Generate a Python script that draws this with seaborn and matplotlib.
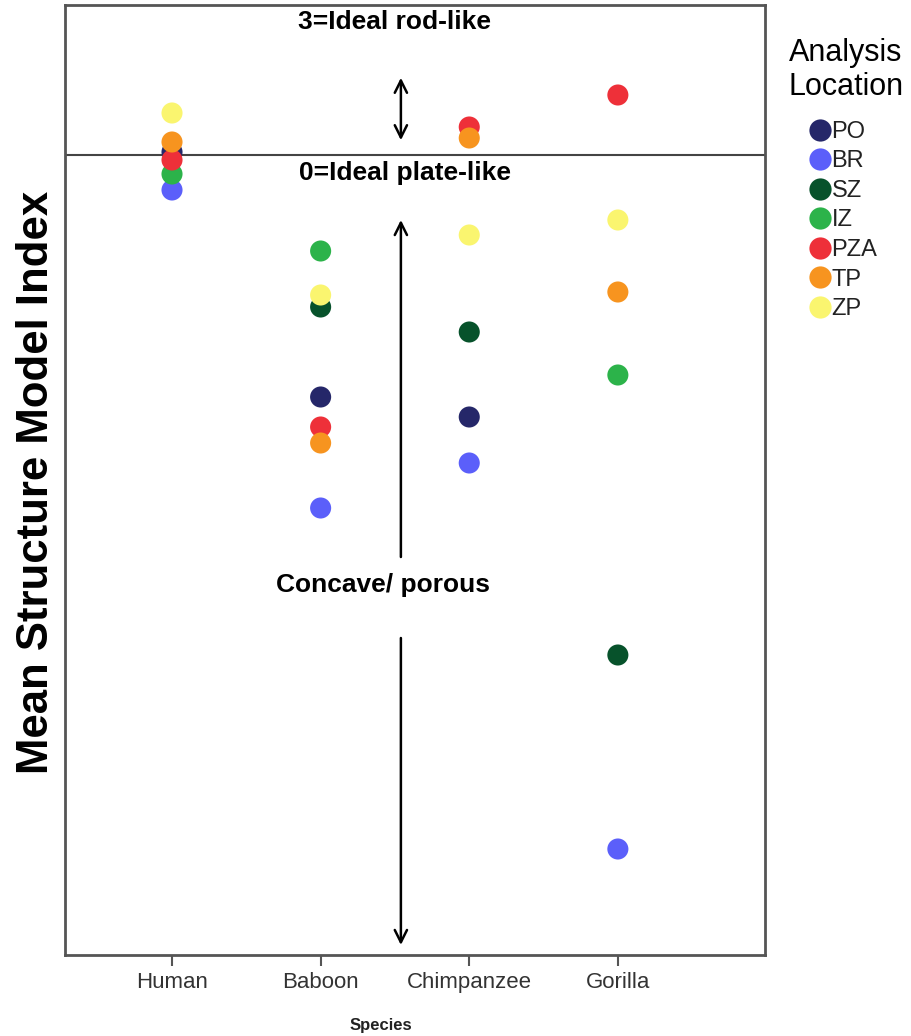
import numpy as np
import pandas as pd
import matplotlib
matplotlib.use("Agg")
import matplotlib.pyplot as plt
from matplotlib.lines import Line2D
import seaborn as sns

# Mean SMI per species and analysis location (NaN = not measured)
species = ["Human", "Baboon", "Chimpanzee", "Gorilla"]
locations = ["PO", "BR", "SZ", "IZ", "PZA", "TP", "ZP"]
po  = [0.015, -1.21, -1.31, np.nan]
br  = [-0.175, -1.765, -1.54, -3.47]
sz  = [np.nan, -0.76, -0.885, -2.50]
iz  = [-0.095, -0.48, np.nan, -1.10]
pza = [-0.025, -1.36, 0.14, 0.30]
tp  = [0.065, -1.44, 0.085, -0.685]
zp  = [0.21, -0.70, -0.40, -0.325]
colors = ["#252769", "#5b5ffa", "#07522b", "#2cb34a", "#ee3039", "#f7941f", "#faf56f"]

series = [po, br, sz, iz, pza, tp, zp]
rows = []
for loc, vals in zip(locations, series):
    for sp, v in zip(species, vals):
        rows.append({"Species": sp, "Location": loc, "SMI": v})
df = pd.DataFrame(rows).dropna()

sns.set_style("white")
plt.rcParams["font.family"] = ["Liberation Sans", "DejaVu Sans"]
plt.rcParams["text.color"] = "black"

fig = plt.figure(figsize=(9.12, 10.36), dpi=100)
ax = fig.add_axes([65 / 912, 1 - 955 / 1036, 700 / 912, 950 / 1036])

palette = dict(zip(locations, colors))
sns.scatterplot(data=df, x="Species", y="SMI", hue="Location", hue_order=locations,
                palette=palette, s=230, linewidth=0, legend=False, ax=ax, zorder=3)

ax.set_xlim(-0.72, 3.99)
ax.set_ylim(-4.0, 0.75)
ax.set_yticks([])
ax.set_xticks(range(len(species)))
ax.set_xticklabels(species, fontsize=16, color="#333333")
ax.tick_params(axis="x", direction="out", length=8, width=1.5, color="#555555", pad=4, bottom=True)

for side in ["left", "right", "top", "bottom"]:
    ax.spines[side].set_visible(True)
    ax.spines[side].set_color("#555555")
    ax.spines[side].set_linewidth(2)

# Reference line at SMI = 0
ax.axhline(0, color="#444444", lw=1.5, zorder=2)

ax.set_ylabel("Mean Structure Model Index", fontsize=31.5, fontweight="bold", color="black")
ax.yaxis.set_label_coords(-0.011, 0.498)
ax.set_xlabel("Species", fontsize=12, fontweight="bold", color="#222222")
ax.xaxis.set_label_coords(0.451, -0.066)

# Annotations for the SMI scale
xa = 1.54
ax.text(xa - 0.04, 0.665, "3=Ideal rod-like", ha="center", va="center",
        fontsize=19, fontweight="bold", color="black")
ax.text(xa + 0.03, -0.09, "0=Ideal plate-like", ha="center", va="center",
        fontsize=19, fontweight="bold", color="black")
ax.text(xa - 0.12, -2.15, "Concave/ porous", ha="center", va="center",
        fontsize=19, fontweight="bold", color="black")

arrow_kw = dict(color="black", lw=1.8, mutation_scale=22)
ax.annotate("", xy=(xa, 0.40), xytext=(xa, 0.06),
            arrowprops=dict(arrowstyle="<->", **arrow_kw))
ax.annotate("", xy=(xa, -0.325), xytext=(xa, -2.01),
            arrowprops=dict(arrowstyle="->", shrinkA=0, shrinkB=0, **arrow_kw))
ax.annotate("", xy=(xa, -3.95), xytext=(xa, -2.415),
            arrowprops=dict(arrowstyle="->", shrinkA=0, shrinkB=0, **arrow_kw))

# Legend: title drawn as its own text, entries below it
fig.text(846 / 912, 1 - 70 / 1036, "Analysis\nLocation", ha="center", va="center",
         fontsize=22, linespacing=1.15, color="black")
handles = [Line2D([0], [0], marker="o", linestyle="", markersize=16,
                  markerfacecolor=c, markeredgewidth=0, label=l)
           for l, c in zip(locations, colors)]
leg = fig.legend(handles=handles, loc="upper left",
                 bbox_to_anchor=(789 / 912, 1 - 109 / 1036), frameon=False,
                 fontsize=17, labelspacing=0.32,
                 handletextpad=-0.3, handlelength=1.6, borderpad=0)
for t in leg.get_texts():
    t.set_color("#222222")

fig.savefig("out.png", dpi=100)
